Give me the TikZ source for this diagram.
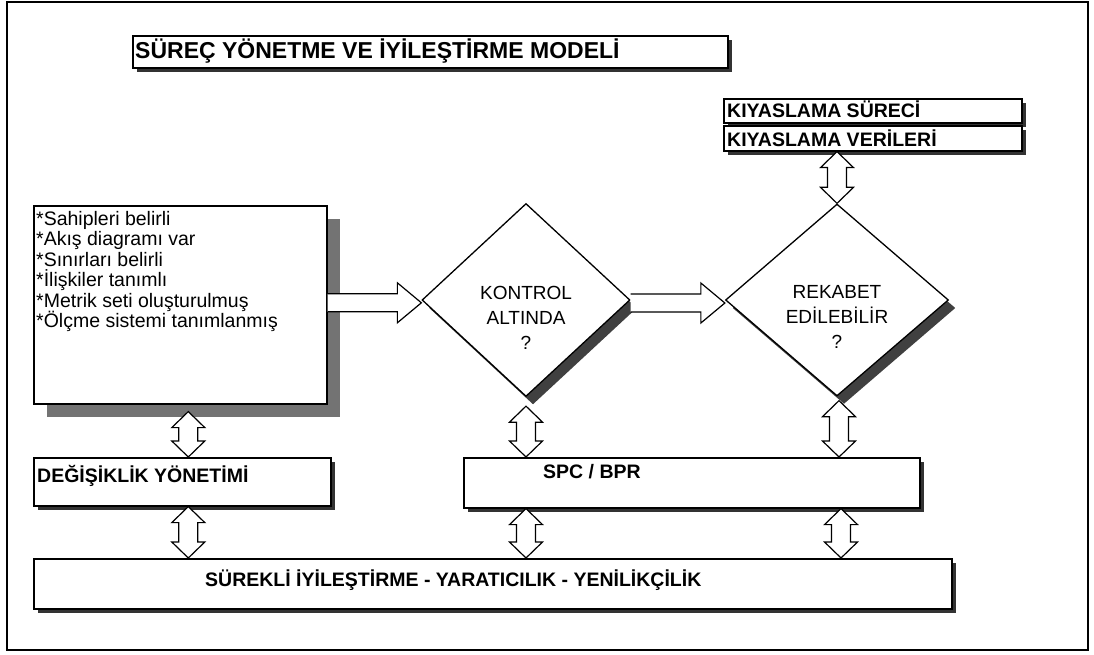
\documentclass[tikz,border=0pt]{standalone}
\usepackage{fontspec}
\setmainfont{Liberation Sans}
\usetikzlibrary{calc,shapes.geometric,shadows}

\tikzset{
	box/.style={draw, line width=1.6pt, fill=white, rectangle, inner sep=0pt, anchor=north west},
	smallshadow/.style={drop shadow={shadow xshift=4pt, shadow yshift=-4pt, fill=black!80, opacity=1}},
	bigshadow/.style={drop shadow={shadow xshift=13pt, shadow yshift=-13pt, fill=black!55, opacity=1}},
	question/.style={draw, diamond, line width=1.3pt, fill=white, inner sep=0pt,
		drop shadow={shadow xshift=7pt, shadow yshift=-8pt, fill=black!75, opacity=1}},
	qtext/.style={align=center, inner sep=0pt, font=\fontsize{19}{25}\selectfont},
	boxtext/.style={anchor=base west, inner sep=0pt, font=\fontsize{19.5}{23}\selectfont\bfseries},
	item/.style={anchor=base west, inner sep=0pt, font=\fontsize{19.5}{23}\selectfont},
	dblarrow/.style={draw, line width=1.2pt, fill=white,
		to path={let \p1=(\tikztostart), \p2=(\tikztotarget) in
			(\x1,\y1) -- (\x1+16.5pt,\y1-16pt) -- (\x1+9.5pt,\y1-16pt) -- (\x1+9.5pt,\y2+16pt)
			-- (\x1+16.5pt,\y2+16pt) -- (\x1,\y2) -- (\x1-16.5pt,\y2+16pt) -- (\x1-9.5pt,\y2+16pt)
			-- (\x1-9.5pt,\y1-16pt) -- (\x1-16.5pt,\y1-16pt) -- cycle}},
	fatarrow/.style={draw, line width=1.2pt, fill=white,
		to path={let \p1=(\tikztostart), \p2=(\tikztotarget) in
			(\x1,\y1+9pt) -- (\x2-24pt,\y1+9pt) -- (\x2-24pt,\y1+20pt) -- (\x2,\y1)
			-- (\x2-24pt,\y1-20pt) -- (\x2-24pt,\y1-9pt) -- (\x1,\y1-9pt)}}
}

\begin{document}
\begin{tikzpicture}[x=1pt, y=-1pt]
	\useasboundingbox (0,0) rectangle (1094,655);
	\draw[line width=1.8pt] (7,2) rectangle (1088,650);
	
	\node[box, smallshadow, minimum width=595pt, minimum height=32pt] (title) at (132,35) {};
	\node[boxtext, font=\fontsize{23}{27}\selectfont\bfseries] (titletext) at (135,59) {SÜREÇ YÖNETME VE İYİLEŞTİRME MODELİ};
	
	\node[box, smallshadow, minimum width=298pt, minimum height=24pt] (bench1) at (723,98) {};
	\node[boxtext] (bench1text) at (727,118) {KIYASLAMA SÜRECİ};
	\node[box, smallshadow, minimum width=298pt, minimum height=25pt] (bench2) at (723,125) {};
	\node[boxtext] (bench2text) at (727,147) {KIYASLAMA VERİLERİ};
	
	\node[box, bigshadow, minimum width=293pt, minimum height=198pt] (lbox) at (33,205) {};
	\foreach \t [count=\i] in {*Sahipleri belirli, *Akış diagramı var, *Sınırları belirli,
		*İlişkiler tanımlı, *Metrik seti oluşturulmuş, *Ölçme sistemi tanımlanmış} {
		\node[item] (item\i) at (36,204.5+20.5*\i) {\t};
	}
	
	\node[box, smallshadow, minimum width=297pt, minimum height=48pt] (chg) at (33,457) {};
	\node[boxtext] (chgtext) at (37,482) {DEĞİŞİKLİK YÖNETİMİ};
	\node[box, smallshadow, minimum width=456pt, minimum height=50pt] (spc) at (463,457) {};
	\node[boxtext] (spctext) at (543,478) {SPC / BPR};
	\node[box, smallshadow, minimum width=918pt, minimum height=50pt] (cont) at (33,558) {};
	\node[boxtext] (conttext) at (205,586) {SÜREKLİ İYİLEŞTİRME - YARATICILIK - YENİLİKÇİLİK};
	
	\node[question, minimum width=208pt, minimum height=193pt] (q1) at (526,300) {};
	\node[qtext] (q1text) at ([yshift=-18pt]q1.center) {KONTROL\\ALTINDA\\?};
	\node[question, minimum width=223pt, minimum height=192pt] (q2) at (837,300) {};
	\node[qtext] (q2text) at ([yshift=-17pt]q2.center) {REKABET\\EDİLEBİLİR\\?};
	
	\draw[fatarrow] ([yshift=2pt]lbox.east) to (q1.west);
	\draw[fatarrow] ([yshift=-3pt]q1.east) to (q2.west);
	
	\draw[dblarrow] (bench2.south -| q2.north) to (q2.north);
	\draw[dblarrow] ([xshift=8pt,yshift=-7pt]lbox.south) to (chg.north);
	\draw[dblarrow] ([xshift=6pt]chg.south) to (cont.north);
	\draw[dblarrow] ([yshift=-9pt]q1.south) to (spc.north);
	\draw[dblarrow] ([xshift=2pt,yshift=-4pt]q2.south) to (spc.north);
	\draw[dblarrow] (spc.south -| q1.south) to (cont.north);
	\draw[dblarrow] ([xshift=4pt]spc.south -| q2.south) to (cont.north);
\end{tikzpicture}
\end{document}
